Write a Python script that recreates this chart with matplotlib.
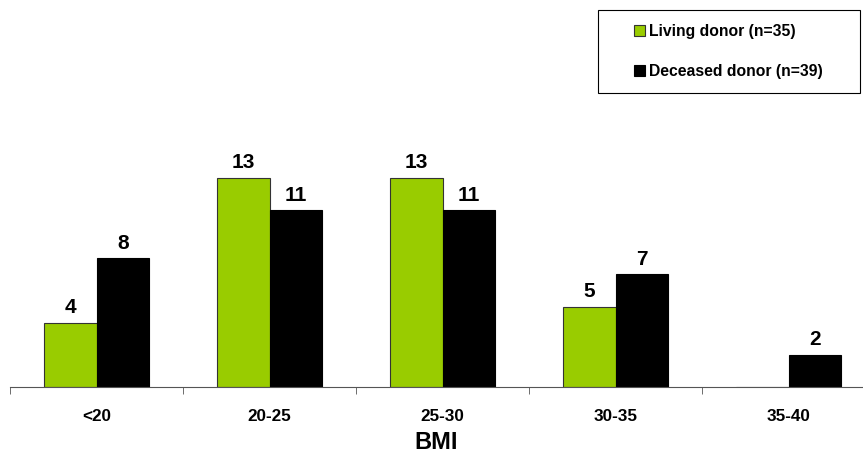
import numpy as np
import matplotlib.pyplot as plt
from matplotlib.ticker import FixedLocator
from matplotlib.patches import Rectangle

plt.rcParams['font.family'] = ['Liberation Sans', 'DejaVu Sans']

categories = ['<20', '20-25', '25-30', '30-35', '35-40']
living = [4, 13, 13, 5, 0]
deceased = [8, 11, 11, 7, 2]
labels = ['Living donor (n=35)', 'Deceased donor (n=39)']

fig = plt.figure(figsize=(8.63, 4.58), dpi=100)
# axes from x=10 px to right edge, baseline at y=387 px
ax = fig.add_axes([10 / 863, 71 / 458, 853 / 863, 225 / 458])

x = np.arange(len(categories))
w = 0.306
b1 = ax.bar(x - w / 2, living, w, color='#99cc00', edgecolor='#333333', linewidth=0.8, label=labels[0])
b2 = ax.bar(x + w / 2, deceased, w, color='black', edgecolor='black', linewidth=0.8, label=labels[1])

for bars, vals in [(b1, living), (b2, deceased)]:
    for bar, v in zip(bars, vals):
        if v == 0:
            continue
        ax.annotate(str(v), (bar.get_x() + bar.get_width() / 2, v), xytext=(0, 4),
                    textcoords='offset points', ha='center', va='bottom',
                    fontsize=15, fontweight='bold', annotation_clip=False)

ax.set_xlim(-0.5, 4.5 - 12 / 173)
ax.set_ylim(0, 225 / 16.08)

for s in ['top', 'right', 'left']:
    ax.spines[s].set_visible(False)
ax.spines['bottom'].set_color('#555555')
ax.set_yticks([])
ax.set_xticks(x)
ax.set_xticklabels(categories, fontsize=12.3, fontweight='bold')
ax.tick_params(axis='x', which='major', length=0, pad=16)
ax.xaxis.set_minor_locator(FixedLocator(np.arange(-0.5, 5, 1)))
ax.tick_params(axis='x', which='minor', length=5, color='#555555', direction='out')
ax.set_xlabel('BMI', fontsize=17, fontweight='bold', labelpad=5)

# legend box
fig.patches.append(Rectangle((598 / 863, 1 - 93 / 458), 262 / 863, 83 / 458,
                             transform=fig.transFigure, facecolor='white',
                             edgecolor='black', linewidth=0.8))
leg = fig.legend(handles=[b1, b2], labels=labels, loc='center left',
                 bbox_to_anchor=(634 / 863, 1 - 51.5 / 458), frameon=False,
                 prop={'weight': 'bold', 'size': 11.3},
                 handlelength=0.7, handleheight=0.7, handletextpad=0.25,
                 labelspacing=1.65, borderpad=0, borderaxespad=0)

fig.savefig('out.png', dpi=100)
